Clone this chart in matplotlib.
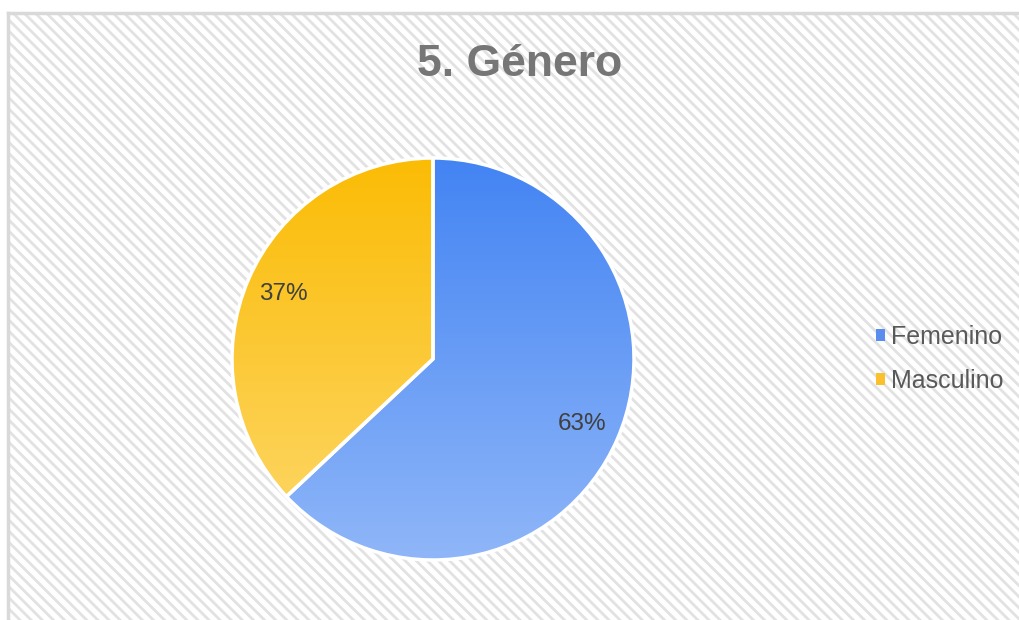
import numpy as np
import matplotlib.pyplot as plt
from matplotlib.patches import Rectangle, Patch
from matplotlib.colors import LinearSegmentedColormap

# Dati
categorie = ['Femenino', 'Masculino']
valori = [63, 37]
etichette = ['63%', '37%']
titolo = '5. Género'

# colori gradiente (alto -> basso)
grad_colori = [('#4384F3', '#8FB6F8'), ('#FBBC05', '#FDD86C')]
legenda_colori = ['#5B8DEF', '#FBC02D']

plt.rcParams['font.family'] = ['Liberation Sans', 'DejaVu Sans']
plt.rcParams['hatch.linewidth'] = 2.0

fig = plt.figure(figsize=(10.19, 6.2), dpi=100)
W, H = 1019, 620

# sfondo tratteggiato con bordo
bg = fig.add_axes([0, 0, 1, 1], zorder=0)
bg.set_xlim(0, W); bg.set_ylim(H, 0); bg.axis('off')
bg.add_patch(Rectangle((8, 13), W, H, facecolor='white', edgecolor='#e2e2e2',
                       linewidth=0, hatch='\\\\\\'))
bg.plot([8, 8], [13, H], color='#d9d9d9', lw=2.5)
bg.plot([8, W], [13, 13], color='#d9d9d9', lw=2.5)

# titolo
fig.text(520 / W, 1 - 64 / H, titolo, ha='center', va='center',
         fontsize=32, fontweight='bold', color='#767676')

# torta
cx, cy, r = 433, 359, 201
m = 1.05
ax = fig.add_axes([(cx - r * m) / W, 1 - (cy + r * m) / H, 2 * r * m / W, 2 * r * m / H], zorder=1)
ax.set_xlim(-m, m); ax.set_ylim(-m, m); ax.axis('off')

wedges, texts, autotexts = ax.pie(valori, startangle=90, counterclock=False,
                                  labels=None, autopct='%1.0f%%', pctdistance=0.81,
                                  wedgeprops=dict(edgecolor='white', linewidth=2.5),
                                  textprops=dict(fontsize=17.5, color='#404040'))
ax.set_xlim(-m, m); ax.set_ylim(-m, m)

grad = np.linspace(0, 1, 256).reshape(-1, 1)
for w, (c1, c2) in zip(wedges, grad_colori):
    w.set_facecolor('none')
    cmap = LinearSegmentedColormap.from_list('g', [c1, c2])
    im = ax.imshow(grad, cmap=cmap, extent=[-1, 1, -1, 1], origin='upper',
                   aspect='auto', zorder=0)
    im.set_clip_path(w)
for t, e in zip(autotexts, etichette):
    t.set_text(e)
    t.set_zorder(5)

# legenda
handles = [Patch(facecolor=c, edgecolor='none') for c in legenda_colori]
fig.legend(handles, categorie, loc='center left', bbox_to_anchor=(853 / W, 1 - 359 / H),
           frameon=False, fontsize=18, labelcolor='#595959', handlelength=0.38,
           handleheight=0.38, handletextpad=0.25, labelspacing=0.82)

plt.savefig('out.png', dpi=100)
